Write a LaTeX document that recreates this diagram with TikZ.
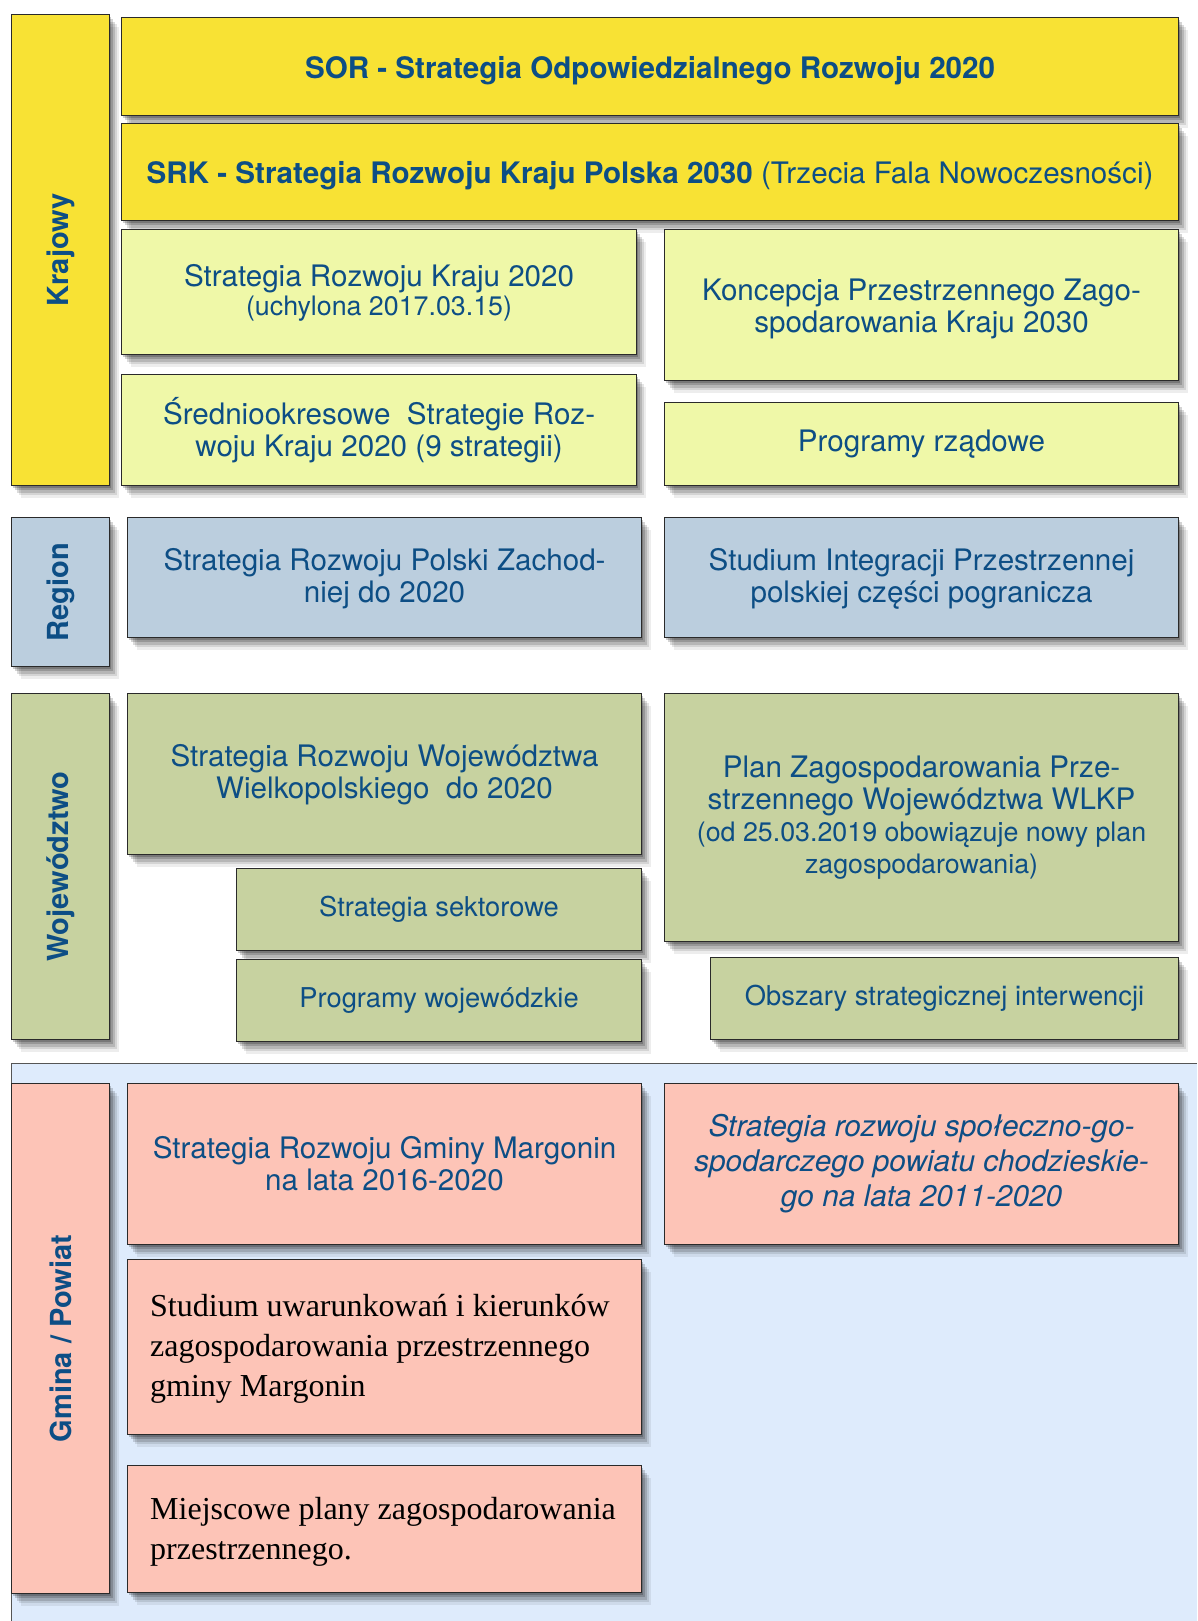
\documentclass[tikz,border=0pt]{standalone}
\usepackage{fontspec}
\setmainfont{TeX Gyre Heros}
\newfontfamily\timesfont{Liberation Serif}
\usetikzlibrary{shadows}
\definecolor{yellowD}{HTML}{F8E234}
\definecolor{yellowL}{HTML}{EFF8A8}
\definecolor{regblue}{HTML}{BBCEDE}
\definecolor{olive}{HTML}{C7D2A0}
\definecolor{pinkbox}{HTML}{FDC4B7}
\definecolor{bgblue}{HTML}{DEEBFC}
\definecolor{txtblue}{HTML}{0D4E85}
\definecolor{edge}{HTML}{2A2A2A}
% #1 box style, #2 text style, #3 name, #4-#7 corners, #8 text y offset, #9 text
\newcommand\boxnode[9]{%
  \pgfmathsetmacro\myBW{#6-#4}\pgfmathsetmacro\myBH{#7-#5}%
  \node[#1, anchor=north west, minimum width=\myBW pt, minimum height=\myBH pt] (#3) at (#4,#5) {};
  \node[#2] (#3-t) at ([yshift=#8]#3.center) {#9};}
\tikzset{
  softshadow/.style={
    drop shadow={shadow xshift=1.5pt, shadow yshift=-2pt, opacity=0.2, fill=black},
    drop shadow={shadow xshift=3.5pt, shadow yshift=-4.5pt, opacity=0.17, fill=black},
    drop shadow={shadow xshift=5.5pt, shadow yshift=-7pt, opacity=0.14, fill=black},
    drop shadow={shadow xshift=7.5pt, shadow yshift=-9.5pt, opacity=0.1, fill=black},
    drop shadow={shadow xshift=9.5pt, shadow yshift=-12pt, opacity=0.07, fill=black}},
  base/.style={draw=edge, line width=1.1pt, inner sep=0pt, softshadow},
  yb/.style={base, fill=yellowD},
  yl/.style={base, fill=yellowL},
  rb/.style={base, fill=regblue},
  ob/.style={base, fill=olive},
  pb/.style={base, fill=pinkbox},
  txt/.style={inner sep=0pt, align=center, text=txtblue, font=\fontsize{29.6}{32}\selectfont},
  smalltxt/.style={txt, font=\fontsize{27.3}{32}\selectfont},
  itxt/.style={txt, font=\fontsize{29.8}{35}\selectfont\itshape},
  barlabel/.style={rotate=90, inner sep=0pt, text=txtblue, font=\fontsize{29}{32}\selectfont\bfseries},
  seriftxt/.style={inner sep=0pt, align=left, anchor=west, text=black, font=\fontsize{32}{40}\timesfont}
}
\begin{document}
\begin{tikzpicture}[x=1pt, y=-1pt]
\useasboundingbox (0,0) rectangle (1197,1621);
\fill[white] (0,0) rectangle (1197,1621);
% background of gmina section
\fill[bgblue] (11,1063) rectangle (1197,1621);
\draw[edge!80, line width=1pt] (11,1621) -- (11,1063) -- (1197,1063);
% Krajowy
\boxnode{yb}{barlabel}{kraj}{11}{14}{109}{485}{0pt}{Krajowy}
\boxnode{yb}{txt}{sor}{121}{17}{1178}{115}{-4pt}{\bfseries SOR - Strategia Odpowiedzialnego Rozwoju 2020}
\boxnode{yb}{txt}{srk}{121}{123}{1178}{220}{-4pt}{\textbf{SRK - Strategia Rozwoju Kraju Polska 2030} (Trzecia Fala Nowoczesności)}
\boxnode{yl}{txt}{srk20}{121}{229}{636}{354}{-1pt}{Strategia Rozwoju Kraju 2020\\[-3pt]{\fontsize{26.8}{30}\selectfont (uchylona 2017.03.15)}}
\boxnode{yl}{txt}{kpzk}{664}{229}{1178}{380}{-4pt}{Koncepcja Przestrzennego Zago-\\spodarowania Kraju 2030}
\boxnode{yl}{txt}{sred}{121}{374}{636}{485}{0pt}{Średniookresowe\ \ Strategie Roz-\\woju Kraju 2020 (9 strategii)}
\boxnode{yl}{txt}{prog}{664}{402}{1178}{485}{0pt}{Programy rządowe}
% Region
\boxnode{rb}{barlabel}{reg}{11}{517}{109}{666}{0pt}{Region}
\boxnode{rb}{txt}{srpz}{127}{517}{641}{637}{-1pt}{Strategia Rozwoju Polski Zachod-\\niej do 2020}
\boxnode{rb}{txt}{sipp}{664}{517}{1178}{637}{-1pt}{Studium Integracji Przestrzennej\\polskiej części pogranicza}
% Wojewodztwo
\boxnode{ob}{barlabel}{woj}{11}{693}{109}{1039}{0pt}{Województwo}
\boxnode{ob}{txt}{srww}{127}{693}{641}{854}{-1pt}{Strategia Rozwoju Województwa\\Wielkopolskiego\ \ do 2020}
\boxnode{ob}{txt}{plan}{664}{693}{1178}{941}{0pt}{Plan Zagospodarowania Prze-\\strzennego Województwa WLKP\\{\fontsize{26.8}{33}\selectfont (od 25.03.2019 obowiązuje nowy plan}\\{\fontsize{26.8}{32}\selectfont zagospodarowania)}}
\boxnode{ob}{smalltxt}{sekt}{236}{868}{641}{950}{0pt}{Strategia sektorowe}
\boxnode{ob}{smalltxt}{progw}{236}{959}{641}{1041}{0pt}{Programy wojewódzkie}
\boxnode{ob}{smalltxt}{osi}{710}{957}{1178}{1039}{0pt}{Obszary strategicznej interwencji}
% Gmina / Powiat
\boxnode{pb}{barlabel}{gm}{11}{1083}{109}{1593}{0pt}{Gmina / Powiat}
\boxnode{pb}{txt}{srgm}{127}{1083}{641}{1244}{0pt}{Strategia Rozwoju Gminy Margonin\\na lata 2016-2020}
\boxnode{pb}{itxt}{pow}{664}{1083}{1178}{1244}{0pt}{Strategia rozwoju społeczno-go-\\spodarczego powiatu chodzieskie-\\go na lata 2011-2020}
\boxnode{pb}{txt}{stud}{127}{1259}{641}{1434}{0pt}{}
\node[seriftxt] (stud-s) at ([xshift=23pt, yshift=-2pt]stud.west) {Studium uwarunkowań i kierunków\\zagospodarowania przestrzennego\\gminy Margonin};
\boxnode{pb}{txt}{miej}{127}{1465}{641}{1592}{0pt}{}
\node[seriftxt] (miej-s) at ([xshift=23pt, yshift=-3pt]miej.west) {Miejscowe plany zagospodarowania\\przestrzennego.};
\end{tikzpicture}
\end{document}
